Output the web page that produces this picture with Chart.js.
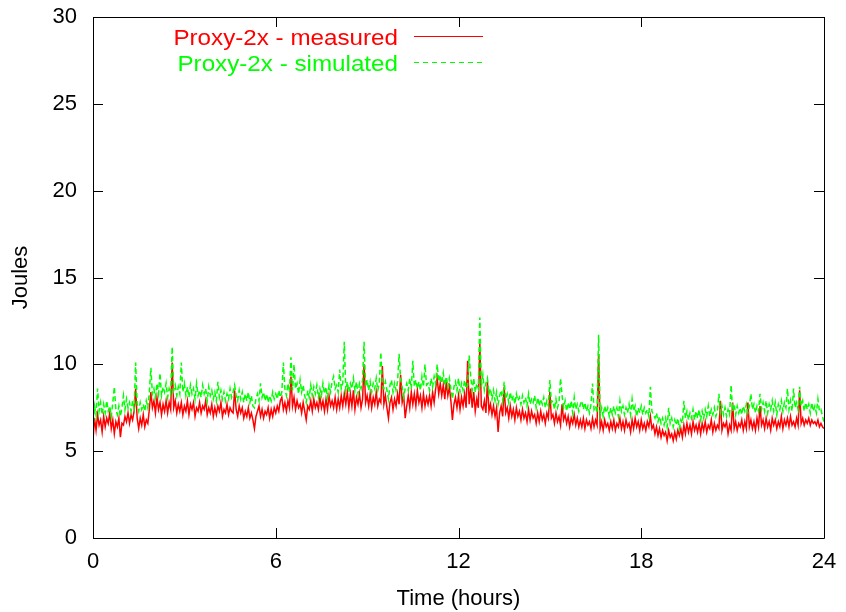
<!DOCTYPE html>
<html>
<head>
<meta charset="utf-8">
<script src="https://cdn.jsdelivr.net/npm/chart.js@4"></script>
<style>
  html, body { margin: 0; padding: 0; background: #fff; }
  canvas { display: block; }
</style>
</head>
<body>
<canvas id="chart" width="846" height="612"></canvas>
<script>
// samples every 0.05 h (one row = one hour), in Joules
const SAMPLES_PER_HOUR = 20;

const measured = [
  5.6, 6.9, 6.2, 7.1, 6.5, 6.8, 6.1, 7.0, 6.4, 6.9, 6.6, 7.2, 6.3, 6.8, 6.0, 6.7, 6.4, 6.9, 5.8, 6.6,
  6.5, 7.0, 6.7, 7.2, 6.6, 7.1, 6.8, 7.3, 8.6, 6.9, 6.3, 6.9, 6.5, 7.1, 6.4, 6.8, 6.6, 7.4, 8.4, 7.5,
  7.9, 7.2, 8.1, 7.4, 7.8, 7.1, 7.7, 7.3, 7.9, 7.2, 7.8, 7.4, 10.1, 7.5, 7.9, 7.2, 7.7, 7.3, 7.8, 7.1,
  7.6, 7.3, 7.9, 7.1, 7.7, 7.4, 7.8, 7.0, 7.5, 7.3, 7.8, 7.2, 7.6, 7.4, 7.9, 7.1, 7.5, 7.2, 7.7, 7.0,
  7.5, 7.1, 7.6, 7.3, 7.8, 7.0, 7.4, 7.2, 7.7, 7.1, 7.5, 7.3, 7.2, 8.5, 7.4, 7.0, 7.6, 7.2, 7.5, 6.9,
  7.3, 7.0, 7.5, 6.9, 7.2, 6.8, 6.3, 7.0, 7.3, 7.6, 7.0, 7.4, 6.9, 7.3, 7.1, 7.5, 6.9, 7.4, 7.0, 7.5,
  7.2, 7.6, 7.3, 7.9, 8.1, 7.4, 7.8, 7.3, 7.9, 7.5, 9.3, 7.6, 8.1, 7.4, 7.9, 7.5, 7.7, 7.2, 7.8, 7.3,
  6.8, 7.6, 7.4, 7.9, 7.3, 8.0, 7.5, 7.8, 7.4, 8.1, 7.5, 7.9, 7.3, 8.0, 7.4, 8.2, 7.6, 7.9, 7.5, 8.1,
  7.4, 8.0, 7.5, 8.2, 7.6, 8.3, 7.7, 8.4, 7.5, 8.3, 7.6, 8.5, 7.4, 8.1, 7.7, 8.3, 7.5, 8.0, 10.0, 7.8,
  8.2, 7.6, 8.3, 7.5, 8.1, 7.7, 8.4, 7.6, 8.0, 7.8, 9.9, 7.7, 8.2, 7.5, 6.9, 7.8, 8.1, 7.4, 8.0, 7.6,
  8.3, 7.7, 9.4, 7.8, 8.2, 6.9, 7.6, 8.2, 7.5, 8.4, 7.7, 8.3, 7.6, 8.5, 7.8, 8.2, 7.5, 8.3, 7.6, 8.1,
  7.7, 8.2, 7.6, 8.4, 7.8, 8.6, 9.2, 8.3, 8.9, 8.2, 8.8, 8.0, 9.0, 8.2, 8.7, 7.9, 6.8, 7.7, 8.1, 7.5,
  8.2, 7.4, 8.1, 7.6, 8.3, 7.5, 10.2, 7.7, 8.6, 7.5, 8.4, 7.3, 8.0, 7.5, 11.2, 7.6, 7.4, 7.9, 7.2, 9.0,
  7.3, 7.7, 7.1, 7.6, 7.0, 7.5, 6.1, 7.2, 7.6, 7.0, 8.7, 7.2, 7.5, 6.9, 7.6, 7.0, 7.4, 6.8, 7.5, 7.0,
  7.3, 6.8, 7.4, 6.9, 7.2, 6.7, 7.4, 6.8, 7.3, 6.9, 7.1, 6.6, 7.2, 6.7, 7.3, 6.8, 7.1, 6.6, 7.2, 6.9,
  8.4, 6.9, 7.1, 6.6, 7.2, 6.7, 7.0, 6.5, 7.7, 6.8, 7.1, 6.6, 7.0, 6.4, 6.9, 6.6, 7.1, 6.5, 6.9, 6.4,
  6.8, 6.4, 6.9, 6.3, 6.8, 6.5, 6.7, 6.3, 6.9, 6.4, 6.8, 6.5, 10.6, 6.3, 6.7, 6.2, 6.8, 6.4, 6.6, 6.2,
  6.7, 6.3, 6.8, 6.2, 6.6, 6.4, 6.9, 6.3, 6.7, 6.2, 6.8, 6.4, 6.6, 6.1, 6.8, 6.3, 6.9, 6.4, 6.7, 6.2,
  6.8, 6.3, 6.6, 6.2, 6.7, 6.4, 7.0, 6.3, 6.5, 6.0, 6.4, 5.9, 6.3, 5.8, 6.2, 5.9, 6.1, 5.6, 6.2, 5.8,
  6.0, 5.6, 6.1, 5.7, 6.2, 5.9, 6.3, 5.8, 6.5, 6.0, 6.6, 6.1, 6.5, 6.0, 6.7, 6.2, 6.5, 6.1, 6.6, 6.0,
  6.6, 6.2, 6.7, 6.1, 6.5, 6.3, 6.8, 6.1, 6.6, 6.2, 6.5, 6.3, 7.9, 6.2, 6.6, 6.4, 6.7, 6.0, 6.5, 6.2,
  7.8, 6.3, 6.7, 6.2, 6.6, 6.4, 6.8, 6.2, 6.7, 6.3, 7.8, 6.4, 6.8, 6.3, 6.7, 6.2, 6.9, 6.4, 7.6, 6.5,
  6.8, 6.3, 6.9, 6.4, 6.7, 6.2, 6.9, 6.5, 6.8, 6.3, 6.7, 6.4, 7.0, 6.3, 6.8, 6.5, 6.9, 6.4, 7.0, 6.5,
  6.7, 6.4, 6.9, 6.5, 8.5, 6.6, 6.9, 6.5, 6.8, 6.6, 6.9, 6.5, 6.8, 6.6, 6.7, 6.5, 6.8, 6.4, 6.6, 6.4,
  6.3
];

const simulated = [
  6.2, 7.6, 7.1, 8.6, 7.3, 7.8, 7.1, 7.7, 7.2, 7.9, 7.3, 7.6, 7.0, 7.8, 8.7, 7.4, 7.1, 7.6, 7.0, 7.5,
  8.2, 7.4, 8.0, 7.5, 7.8, 7.3, 7.9, 7.5, 10.1, 7.7, 7.3, 7.8, 7.4, 7.7, 7.3, 7.9, 7.5, 8.4, 9.8, 8.3,
  8.6, 8.1, 8.9, 8.3, 9.5, 8.2, 8.7, 8.4, 8.9, 8.1, 8.6, 8.3, 11.0, 8.5, 8.8, 8.2, 8.7, 8.3, 10.1, 8.4,
  8.9, 8.2, 8.7, 8.1, 8.8, 8.3, 8.6, 8.0, 8.9, 8.2, 8.5, 8.1, 8.8, 8.3, 8.6, 7.9, 8.7, 8.2, 8.5, 8.0,
  8.4, 7.9, 9.0, 8.1, 8.5, 8.0, 8.4, 7.9, 8.3, 8.0, 8.6, 8.1, 8.4, 8.8, 8.2, 7.9, 8.5, 8.0, 8.4, 7.8,
  8.3, 7.9, 8.4, 7.8, 8.2, 7.6, 7.5, 8.0, 8.3, 7.9, 8.9, 8.1, 8.4, 7.9, 8.3, 7.8, 8.2, 7.9, 8.4, 8.0,
  8.3, 8.0, 8.5, 8.1, 8.4, 10.1, 8.6, 8.2, 8.9, 8.4, 10.4, 8.5, 10.0, 8.6, 8.9, 8.3, 9.1, 8.4, 8.8, 8.2,
  7.8, 8.5, 8.1, 8.8, 8.2, 8.7, 8.3, 8.8, 8.1, 8.6, 8.2, 8.9, 8.3, 8.7, 8.1, 8.8, 8.4, 9.0, 9.3, 8.6,
  8.8, 8.4, 9.7, 8.6, 8.9, 11.3, 8.5, 9.0, 8.4, 8.9, 8.6, 9.2, 8.5, 9.0, 8.3, 8.9, 8.6, 9.1, 11.3, 8.7,
  9.1, 8.5, 9.0, 8.4, 8.9, 8.6, 9.2, 8.5, 8.9, 10.7, 8.8, 8.6, 9.0, 8.5, 8.0, 8.8, 9.1, 8.4, 8.9, 8.5,
  9.0, 10.6, 9.1, 8.7, 8.1, 8.6, 8.9, 8.5, 9.2, 8.6, 10.2, 8.7, 9.1, 8.6, 9.0, 8.5, 9.3, 8.7, 10.0, 8.8,
  8.9, 8.5, 9.2, 8.7, 9.3, 8.9, 10.0, 9.0, 9.4, 8.9, 9.5, 8.8, 9.3, 8.7, 9.2, 8.6, 8.0, 8.7, 9.0, 8.5,
  9.2, 8.4, 8.9, 8.5, 9.1, 8.6, 8.8, 10.5, 9.3, 8.5, 9.2, 8.4, 8.9, 8.6, 12.7, 8.7, 9.4, 8.5, 8.9, 9.2,
  8.3, 8.6, 8.0, 8.5, 7.9, 8.4, 7.7, 8.2, 8.5, 7.9, 9.0, 8.0, 8.3, 7.8, 8.4, 7.9, 8.2, 7.7, 8.3, 7.9,
  8.1, 7.7, 8.2, 7.8, 8.1, 7.6, 8.3, 7.7, 8.0, 7.8, 8.2, 7.5, 8.1, 7.6, 8.0, 7.7, 8.1, 7.5, 7.9, 7.6,
  9.1, 7.8, 7.9, 7.4, 8.0, 7.5, 7.8, 9.2, 8.2, 7.5, 7.9, 7.3, 7.8, 7.4, 7.9, 7.2, 8.1, 7.4, 7.7, 7.3,
  7.7, 7.9, 7.4, 7.8, 7.3, 7.6, 7.2, 7.7, 8.9, 7.4, 7.6, 7.2, 11.7, 7.1, 7.5, 7.0, 7.6, 7.2, 7.5, 7.0,
  7.5, 7.1, 7.6, 7.2, 7.5, 7.0, 7.9, 7.3, 7.6, 7.1, 7.5, 7.2, 7.7, 7.1, 8.0, 7.3, 7.6, 7.0, 7.5, 7.2,
  7.6, 7.1, 7.5, 7.2, 7.4, 7.0, 8.7, 7.3, 7.1, 6.9, 7.2, 6.7, 7.0, 6.6, 6.9, 6.5, 6.9, 6.4, 7.5, 6.6,
  6.9, 6.4, 6.8, 6.5, 6.9, 6.3, 6.8, 6.6, 7.9, 6.9, 7.3, 6.8, 7.2, 6.9, 7.4, 6.8, 7.3, 6.9, 7.4, 6.8,
  7.3, 6.9, 7.4, 7.0, 7.6, 7.0, 7.4, 7.1, 7.5, 7.0, 7.3, 8.3, 7.2, 7.6, 7.1, 7.5, 7.0, 7.4, 7.1, 8.8,
  7.3, 7.7, 7.1, 7.6, 7.2, 7.5, 7.1, 7.6, 7.3, 7.7, 7.2, 7.6, 8.3, 7.4, 7.7, 7.2, 7.6, 7.3, 8.3, 7.4,
  7.8, 7.3, 7.9, 7.2, 7.7, 7.4, 7.9, 7.3, 7.8, 7.1, 7.7, 7.4, 7.9, 7.3, 7.8, 7.5, 8.6, 7.4, 7.9, 7.3,
  8.6, 7.5, 7.8, 7.4, 8.7, 7.6, 7.9, 7.3, 7.8, 7.4, 7.7, 7.2, 7.8, 7.3, 7.6, 7.2, 8.0, 7.3, 7.4, 7.0,
  6.7
];

const xTicks = [0, 6, 12, 18, 24];
const yTicks = [0, 5, 10, 15, 20, 25, 30];
const seriesNames = ['Proxy-2x - measured', 'Proxy-2x - simulated'];

const FONT = 'Liberation Sans, Arial, Helvetica, sans-serif';
const RED = '#ff0000';
const GREEN = '#00ff00';

const toPoints = arr => arr.map((v, i) => ({ x: i / SAMPLES_PER_HOUR, y: v }));

// gnuplot-like frame with inward ticks on all four sides, plus the key
const gnuplotFrame = {
  id: 'gnuplotFrame',
  afterDraw(chart) {
    const { ctx, chartArea: a, scales: { x, y } } = chart;
    const tl = 10;
    ctx.save();
    ctx.strokeStyle = '#000';
    ctx.lineWidth = 1;
    ctx.beginPath();
    ctx.rect(Math.round(a.left) + 0.5, Math.round(a.top) + 0.5, Math.round(a.width), Math.round(a.height));
    xTicks.forEach(v => {
      const px = Math.round(x.getPixelForValue(v)) + 0.5;
      ctx.moveTo(px, a.bottom); ctx.lineTo(px, a.bottom - tl);
      ctx.moveTo(px, a.top); ctx.lineTo(px, a.top + tl);
    });
    yTicks.forEach(v => {
      const py = Math.round(y.getPixelForValue(v)) + 0.5;
      ctx.moveTo(a.left, py); ctx.lineTo(a.left + tl, py);
      ctx.moveTo(a.right, py); ctx.lineTo(a.right - tl, py);
    });
    ctx.stroke();

    // key (gnuplot text is a bit wider than Liberation, stretch it)
    const rows = [
      { text: seriesNames[0], color: RED, dash: [], y: 39 },
      { text: seriesNames[1], color: GREEN, dash: [5, 4], y: 65 }
    ];
    rows.forEach(r => {
      ctx.save();
      ctx.translate(398, r.y);
      ctx.scale(1.1, 1);
      ctx.font = '22px ' + FONT;
      ctx.textAlign = 'right';
      ctx.textBaseline = 'middle';
      ctx.fillStyle = r.color;
      ctx.fillText(r.text, 0, 0);
      ctx.restore();
      ctx.strokeStyle = r.color;
      ctx.setLineDash(r.dash);
      ctx.beginPath();
      ctx.moveTo(414, r.y - 2.5);
      ctx.lineTo(483, r.y - 2.5);
      ctx.stroke();
    });
    ctx.restore();
  }
};

new Chart(document.getElementById('chart').getContext('2d'), {
  type: 'line',
  data: {
    datasets: [
      {
        label: seriesNames[0],
        data: toPoints(measured),
        borderColor: RED,
        borderWidth: 1.5,
        pointRadius: 0,
        tension: 0,
        fill: false,
        order: 1
      },
      {
        label: seriesNames[1],
        data: toPoints(simulated),
        borderColor: GREEN,
        borderWidth: 1.5,
        borderDash: [5, 3],
        pointRadius: 0,
        tension: 0,
        fill: false,
        order: 0
      }
    ]
  },
  options: {
    responsive: false,
    animation: false,
    devicePixelRatio: 1,
    layout: { padding: { top: 17, right: 22, left: 0, bottom: 0 } },
    plugins: { legend: { display: false }, tooltip: { enabled: false } },
    scales: {
      x: {
        type: 'linear',
        min: 0,
        max: 24,
        afterBuildTicks: s => { s.ticks = xTicks.map(v => ({ value: v })); },
        afterFit: s => { s.height = 74; s.paddingRight = 0; },
        grid: { display: false, drawTicks: false },
        border: { display: false },
        ticks: { color: '#000', font: { family: FONT, size: 22 }, padding: 11, maxRotation: 0 },
        title: { display: true, text: 'Time (hours)', color: '#000', font: { family: FONT, size: 22 }, padding: { top: 0, bottom: 0 } }
      },
      y: {
        min: 0,
        max: 30,
        afterBuildTicks: s => { s.ticks = yTicks.map(v => ({ value: v })); },
        afterFit: s => { s.width = 93; s.paddingTop = 0; s.paddingBottom = 0; },
        grid: { display: false, drawTicks: false },
        border: { display: false },
        ticks: { color: '#000', font: { family: FONT, size: 22 }, padding: 16 },
        title: { display: true, text: 'Joules', color: '#000', font: { family: FONT, size: 22 }, padding: { top: 8, bottom: 0 } }
      }
    }
  },
  plugins: [gnuplotFrame]
});
</script>
</body>
</html>
